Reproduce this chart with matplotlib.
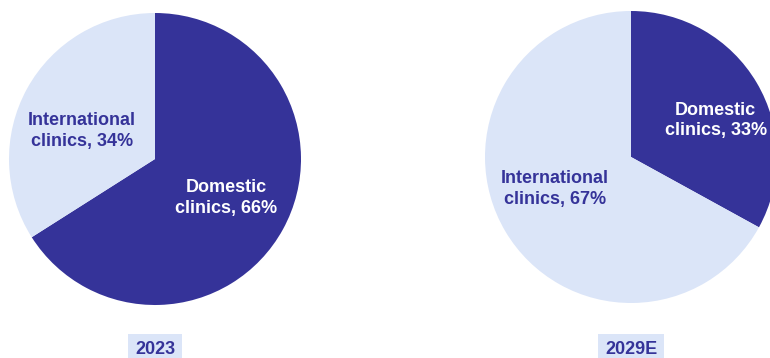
import matplotlib.pyplot as plt

years = ["2023", "2029E"]
domestic = [66, 33]
international = [34, 67]
seg_names = ["Domestic\nclinics", "International\nclinics"]

dark = "#353399"
light = "#dbe5f8"

plt.rcParams['font.family'] = ['Liberation Sans', 'DejaVu Sans']

W, H = 770, 358
fig = plt.figure(figsize=(W / 100, H / 100), dpi=100)

R = 146
centers = [(155, 159), (631, 157)]
# label positions (data coords, radius 1) for domestic / international
label_pos = [[(0.49, -0.27), (-0.50, 0.19)],
             [(0.58, 0.25), (-0.52, -0.22)]]

for i, year in enumerate(years):
    cx, cy = centers[i]
    ax = fig.add_axes([(cx - R) / W, (H - cy - R) / H, 2 * R / W, 2 * R / H])
    vals = [domestic[i], international[i]]
    ax.pie(vals, colors=[dark, light], startangle=90, counterclock=False,
           radius=1, wedgeprops=dict(linewidth=0))
    ax.set_xlim(-1, 1)
    ax.set_ylim(-1, 1)
    ax.set_aspect('equal')
    ax.axis('off')
    for j, v in enumerate(vals):
        x, y = label_pos[i][j]
        ax.text(x, y, f"{seg_names[j]}, {v}%", ha='center', va='center',
                fontsize=13, fontweight='bold', linespacing=1.3,
                color='white' if j == 0 else dark)
    fig.text(cx / W, 1 - 349 / H, year, ha='center', va='center',
             fontsize=13, fontweight='bold', color=dark,
             bbox=dict(boxstyle='square,pad=0.38', facecolor=light, edgecolor='none'))

fig.savefig("out.png", dpi=100)
